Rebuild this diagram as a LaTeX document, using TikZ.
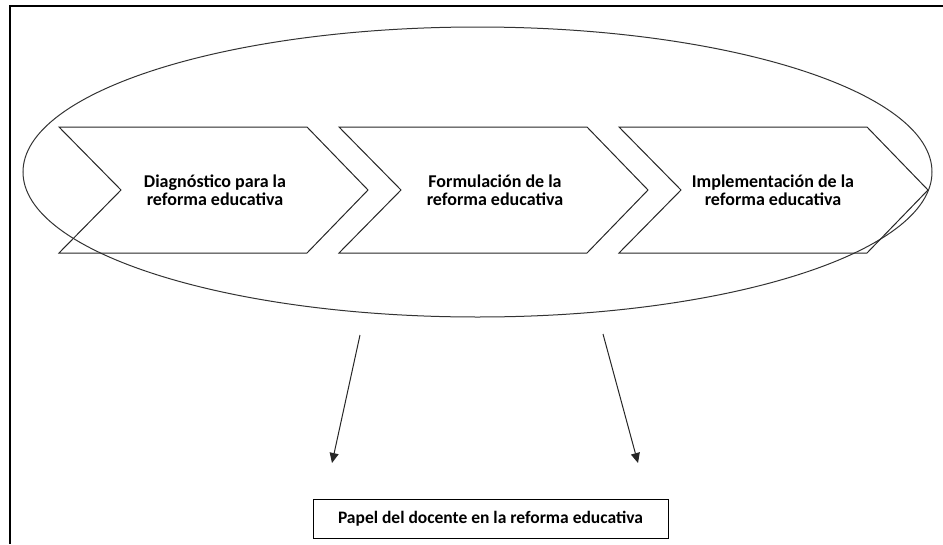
\documentclass[tikz,border=0pt]{standalone}
\usepackage{fontspec}
\setmainfont{Carlito}
\usetikzlibrary{arrows.meta}
\begin{document}
\begin{tikzpicture}[x=1pt,y=-1pt,
  chev/.style={draw=black!85, line width=1pt, line join=miter},
  lbl/.style={align=center, font=\bfseries\fontsize{18}{18}\selectfont, inner sep=0pt},
  frame/.style={line width=2.2pt, draw=black},
  arr/.style={draw=black!85, line width=1pt, -{Triangle[length=10pt,width=9pt]}}]
\useasboundingbox (0,0) rectangle (943,544);
% outer frame (top and left only)
\draw[frame] (9,6) -- (943,6);
\draw[frame] (10,5) -- (10,544);
% ellipse
\coordinate (ell) at (477.5,172);
\draw[draw=black!80, line width=1pt] (ell) ellipse [x radius=454.5pt, y radius=145pt];
% chevrons
\foreach \i/\dx in {1/0, 2/280, 3/560}{
  \draw[chev] (59+\dx,127) -- (307+\dx,127) -- (368+\dx,190) -- (307+\dx,253) -- (59+\dx,253) -- (121+\dx,190) -- cycle;
}
\node[lbl] (c1) at (215,190) {Diagnóstico para la\\reforma educativa};
\node[lbl] (c2) at (495,190) {Formulación de la\\reforma educativa};
\node[lbl] (c3) at (773,190) {Implementación de la\\reforma educativa};
% bottom box
\node[draw=black, line width=1pt, minimum width=355pt, minimum height=39pt, inner sep=0pt,
      font=\bfseries\fontsize{17.5}{18}\selectfont] (papel) at (490.5,518.5) {Papel del docente en la reforma educativa};
% arrows
\coordinate (a1s) at (360,335);
\coordinate (a1e) at (332,463);
\coordinate (a2s) at (603,334);
\coordinate (a2e) at (638,463);
\draw[arr] (a1s) -- (a1e);
\draw[arr] (a2s) -- (a2e);
\end{tikzpicture}
\end{document}
